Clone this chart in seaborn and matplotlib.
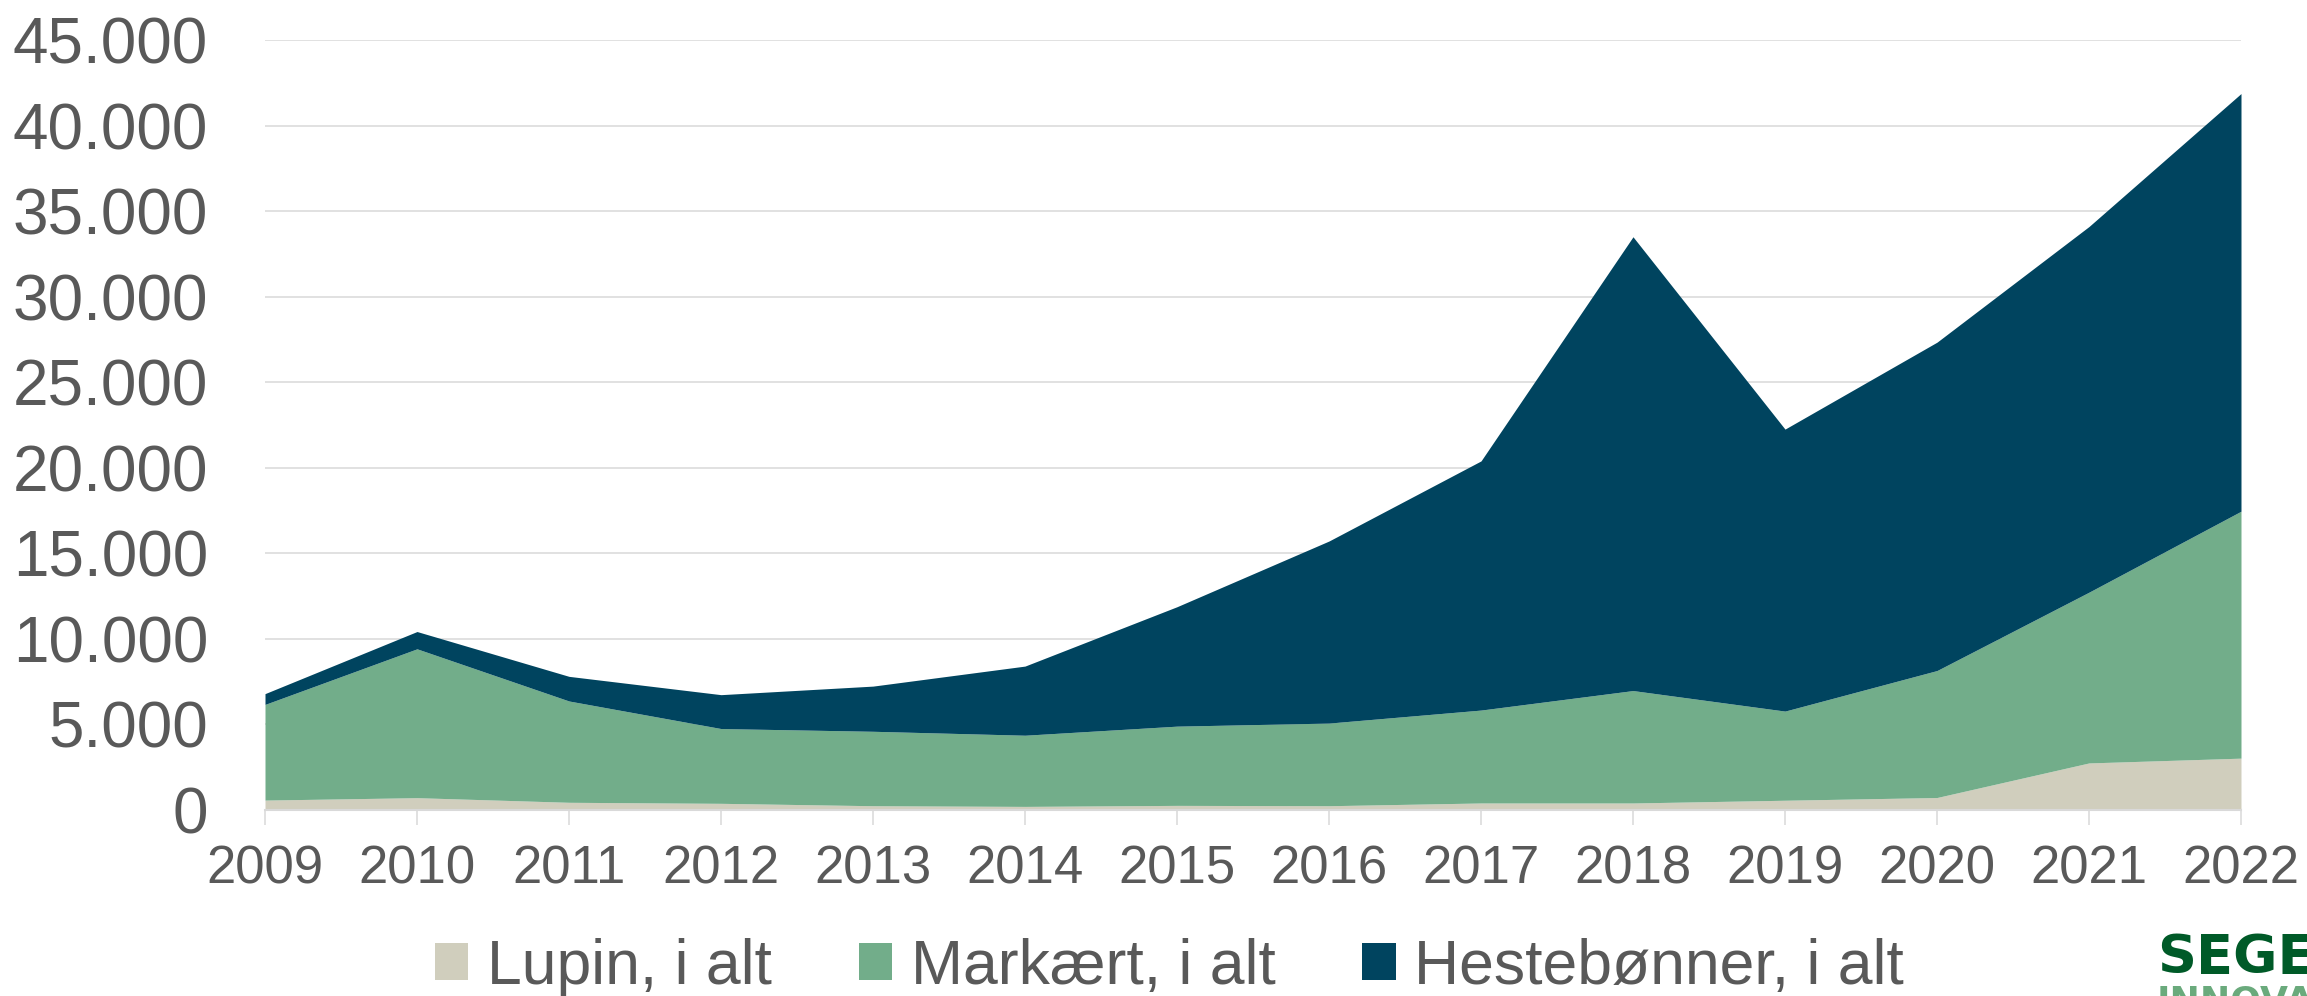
import numpy as np
import matplotlib
matplotlib.use("Agg")
import matplotlib.pyplot as plt
import seaborn as sns
from matplotlib.patches import Patch
from matplotlib.ticker import FuncFormatter

# Data (hektar)
years = [2009, 2010, 2011, 2012, 2013, 2014, 2015, 2016, 2017, 2018, 2019, 2020, 2021, 2022]
lupin = [580, 720, 450, 390, 250, 210, 270, 250, 410, 410, 570, 730, 2750, 3030]
markaert = [5590, 8700, 5920, 4370, 4350, 4160, 4630, 4830, 5430, 6570, 5210, 7420, 9980, 14430]
hestebonner = [630, 1010, 1440, 1980, 2640, 4040, 6980, 10640, 14560, 26520, 16480, 19190, 21370, 24410]

labels = ["Lupin, i alt", "Markært, i alt", "Hestebønner, i alt"]
colors = ["#D0CEBD", "#72AD8A", "#00445F"]
text_color = "#595959"
grid_color = "#D9D9D9"

sns.set_theme(style="white")
plt.rcParams["font.family"] = ["Liberation Sans", "DejaVu Sans"]

fig = plt.figure(figsize=(23.07, 9.96), dpi=100)
ax = fig.add_axes([0.11487, 0.18675, 0.85652, 0.77309])

ax.stackplot(years, lupin, markaert, hestebonner, colors=colors, linewidth=0)

ax.set_xlim(2009, 2022)
ax.set_ylim(0, 45000)
ax.set_yticks(np.arange(0, 45001, 5000))
ax.yaxis.set_major_formatter(FuncFormatter(lambda v, p: f"{int(v):,}".replace(",", ".")))
ax.set_xticks(years)
ax.set_xticklabels([str(y) for y in years])

ax.grid(axis="y", color=grid_color, linewidth=1.1)
ax.set_axisbelow(True)
sns.despine(ax=ax, left=True, top=True, right=True)
ax.spines["bottom"].set_color(grid_color)
ax.spines["bottom"].set_linewidth(1.5)

ax.tick_params(axis="y", length=0, pad=41, labelsize=46, labelcolor=text_color)
ax.tick_params(axis="x", length=11, width=1.1, color=grid_color, pad=14,
               labelsize=38, labelcolor=text_color, bottom=True)

handles = [Patch(facecolor=c, edgecolor="none") for c in colors]
fig.legend(handles, labels, loc="center", bbox_to_anchor=(0.507, 0.029), ncol=3,
           frameon=False, fontsize=45, labelcolor=text_color,
           handlelength=0.53, handleheight=0.53, handletextpad=0.3,
           columnspacing=1.39, borderpad=0)

# logo text, clipped by the figure edge like the original
fig.text(2157 / 2307, 0.038, "SEGES", fontsize=39, fontweight="bold",
         family="DejaVu Sans", color="#005A28", ha="left", va="center")
fig.text(2157 / 2307, -0.006, "INNOVATION", fontsize=26, fontweight="bold",
         family="DejaVu Sans", color="#6AAA7C", ha="left", va="center")

fig.savefig("out.png", dpi=100)
